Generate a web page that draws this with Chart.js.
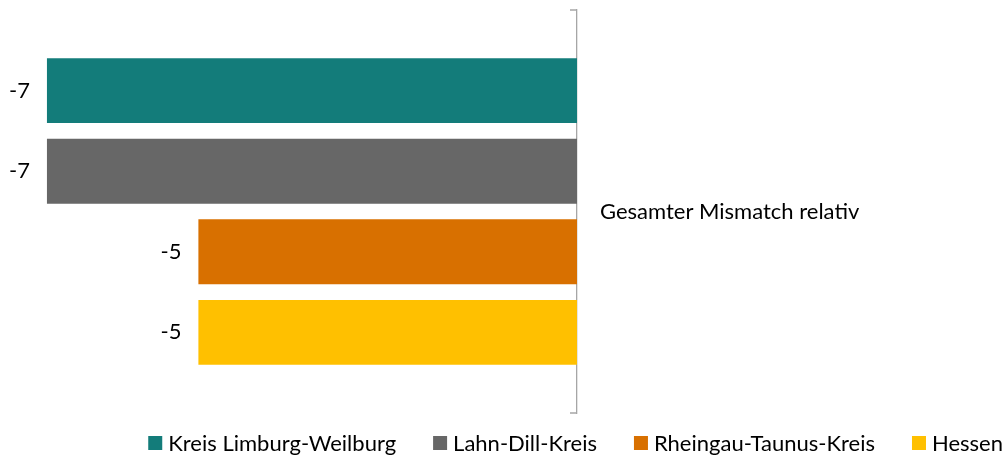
<!DOCTYPE html>
<html>
<head>
<meta charset="utf-8">
<script src="https://cdn.jsdelivr.net/npm/chart.js@4/dist/chart.umd.min.js"></script>
<style>
  html, body { margin: 0; padding: 0; background: #fff; }
  #wrap { width: 1006px; height: 456px; }
</style>
</head>
<body>
<div id="wrap"><canvas id="chartCanvas"></canvas></div>
<script>
const categories = ['Gesamter Mismatch relativ'];
const seriesNames = ['Kreis Limburg-Weilburg', 'Lahn-Dill-Kreis', 'Rheingau-Taunus-Kreis', 'Hessen'];
const seriesValues = [[-7], [-7], [-5], [-5]];
const seriesColors = ['#137C7A', '#676767', '#D87000', '#FFC000'];

const fontFamily = 'Lato, "Open Sans", sans-serif';
const fontSize = 22;

// value labels left of the bar ends
const valueLabels = {
  id: 'valueLabels',
  afterDatasetsDraw(chart) {
    const ctx = chart.ctx;
    ctx.save();
    ctx.font = fontSize + 'px ' + fontFamily;
    ctx.fillStyle = '#000';
    ctx.textAlign = 'right';
    ctx.textBaseline = 'middle';
    chart.data.datasets.forEach((ds, i) => {
      chart.getDatasetMeta(i).data.forEach((bar, j) => {
        ctx.fillText(String(ds.data[j]), bar.x - 17, bar.y);
      });
    });
    ctx.restore();
  }
};

// small inward ticks at the ends of the category axis
const axisTicks = {
  id: 'axisTicks',
  afterDraw(chart) {
    const a = chart.chartArea;
    const ctx = chart.ctx;
    ctx.save();
    ctx.strokeStyle = '#a6a6a6';
    ctx.lineWidth = 1.3;
    ctx.beginPath();
    ctx.moveTo(a.right - 7, a.top);
    ctx.lineTo(a.right, a.top);
    ctx.moveTo(a.right - 7, a.bottom);
    ctx.lineTo(a.right, a.bottom);
    ctx.stroke();
    ctx.restore();
  }
};

// legend row, right-aligned like the original
const bottomLegend = {
  id: 'bottomLegend',
  afterDraw(chart) {
    const ctx = chart.ctx;
    ctx.save();
    ctx.font = fontSize + 'px ' + fontFamily;
    ctx.textBaseline = 'middle';
    ctx.textAlign = 'left';
    const box = 14, gapText = 6, gapItem = 37, y = 443;
    const items = chart.data.datasets.map(ds => ({
      text: ds.label, color: ds.backgroundColor,
      w: box + gapText + ctx.measureText(ds.label).width
    }));
    const total = items.reduce((s, it) => s + it.w, 0) + gapItem * (items.length - 1);
    let x = 1003 - total;
    items.forEach(it => {
      ctx.fillStyle = it.color;
      ctx.fillRect(x, y - box / 2, box, box);
      ctx.fillStyle = '#000';
      ctx.fillText(it.text, x + box + gapText, y + 1);
      x += it.w + gapItem;
    });
    ctx.restore();
  }
};

const ctx = document.getElementById('chartCanvas').getContext('2d');
new Chart(ctx, {
  type: 'bar',
  data: {
    labels: categories,
    datasets: seriesNames.map((name, i) => ({
      label: name,
      data: seriesValues[i],
      backgroundColor: seriesColors[i],
      borderWidth: 0,
      barPercentage: 0.805,
      categoryPercentage: 0.8
    }))
  },
  options: {
    indexAxis: 'y',
    responsive: true,
    maintainAspectRatio: false,
    animation: false,
    layout: { padding: { top: 10, left: 0, right: 0, bottom: 43 } },
    scales: {
      x: {
        display: false,
        min: -7.62,
        max: 0
      },
      y: {
        position: 'right',
        grid: { display: false },
        border: { display: true, color: '#a6a6a6', width: 1.3 },
        ticks: {
          padding: 15,
          color: '#000',
          font: { family: fontFamily, size: fontSize }
        },
        afterFit(scale) {
          scale.width = 429;
          scale.paddingTop = 0;
          scale.paddingBottom = 0;
        }
      }
    },
    plugins: {
      tooltip: { enabled: false },
      legend: { display: false }
    }
  },
  plugins: [valueLabels, axisTicks, bottomLegend]
});
</script>
</body>
</html>
